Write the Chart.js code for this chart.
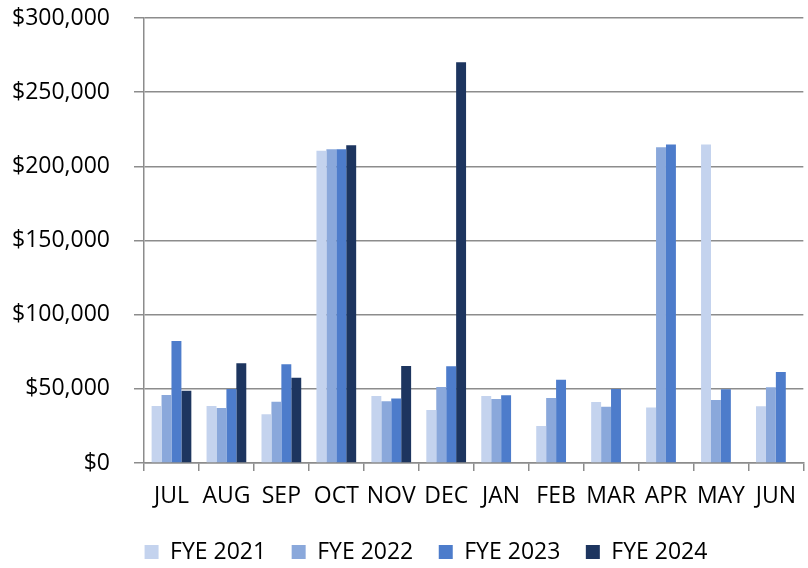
<!DOCTYPE html>
<html>
<head>
<meta charset="utf-8">
<script src="https://cdn.jsdelivr.net/npm/chart.js@4/dist/chart.umd.min.js"></script>
<style>
  html, body { margin: 0; padding: 0; background: #ffffff; }
  #wrap { width: 808px; height: 568px; position: relative; }
</style>
</head>
<body>
<div id="wrap"><canvas id="c" width="808" height="568"></canvas></div>
<script>
const months = ['JUL','AUG','SEP','OCT','NOV','DEC','JAN','FEB','MAR','APR','MAY','JUN'];
const fye2021 = [38400, 38400, 32800, 210500, 45200, 35700, 45200, 24900, 41100, 37500, 214800, 38200];
const fye2022 = [45800, 37100, 41300, 211500, 41600, 51200, 43100, 43800, 38000, 212800, 42500, 51000];
const fye2023 = [82200, 49900, 66500, 211500, 43400, 65200, 45600, 56200, 49900, 214800, 49700, 61300];
const fye2024 = [48700, 67200, 57500, 214200, 65400, 270100, null, null, null, null, null, null];
const seriesNames = ['FYE 2021', 'FYE 2022', 'FYE 2023', 'FYE 2024'];
const seriesColors = ['#C4D3EE', '#8AA8DB', '#4D7CCB', '#1D355F'];
const yMin = 0, yMax = 300000, yStep = 50000;

const FONT = "'Open Sans', 'DejaVu Sans', sans-serif";
const axisGray = '#8c8c8c';

const data = {
  labels: months,
  datasets: [fye2021, fye2022, fye2023, fye2024].map((vals, i) => ({
    label: seriesNames[i],
    data: vals,
    backgroundColor: seriesColors[i],
    borderWidth: 0,
    barPercentage: 1.0,
    categoryPercentage: 0.723
  }))
};

// shift the legend row to sit under the plot like the reference
const legendShift = {
  id: 'legendShift',
  afterLayout(chart) {
    if (chart.legend) { chart.legend.left += 22; chart.legend.right += 22; }
  }
};

new Chart(document.getElementById('c'), {
  type: 'bar',
  data,
  plugins: [legendShift],
  options: {
    responsive: false,
    animation: false,
    devicePixelRatio: 1,
    layout: { padding: { top: 0, right: 0, left: 0, bottom: -5.5 } },
    plugins: {
      tooltip: { enabled: false },
      legend: {
        position: 'bottom',
        labels: {
          font: { family: FONT, size: 23 },
          color: '#000000',
          boxWidth: 14,
          boxHeight: 14,
          padding: 25.5
        }
      }
    },
    scales: {
      x: {
        afterFit: (s) => { s.height = 52; },
        grid: {
          display: true,
          drawOnChartArea: false,
          drawTicks: true,
          tickLength: 8,
          offset: true,
          color: axisGray,
          lineWidth: 1.5
        },
        border: { display: true, color: axisGray, width: 1.5 },
        ticks: {
          font: { family: FONT, size: 23, lineHeight: 1.2 },
          color: '#000000',
          padding: 12,
          maxRotation: 0,
          autoSkip: false
        }
      },
      y: {
        min: yMin,
        max: yMax,
        afterFit: (s) => { s.width = 144; s.paddingTop = 18; s.paddingBottom = 0; },
        grid: {
          display: true,
          drawOnChartArea: true,
          drawTicks: true,
          tickLength: 10,
          color: axisGray,
          lineWidth: 1.5
        },
        border: { display: true, color: axisGray, width: 1.5 },
        ticks: {
          stepSize: yStep,
          font: { family: FONT, size: 23 },
          color: '#000000',
          padding: 24,
          callback: (v) => '$' + Number(v).toLocaleString('en-US')
        }
      }
    }
  }
});
</script>
</body>
</html>
